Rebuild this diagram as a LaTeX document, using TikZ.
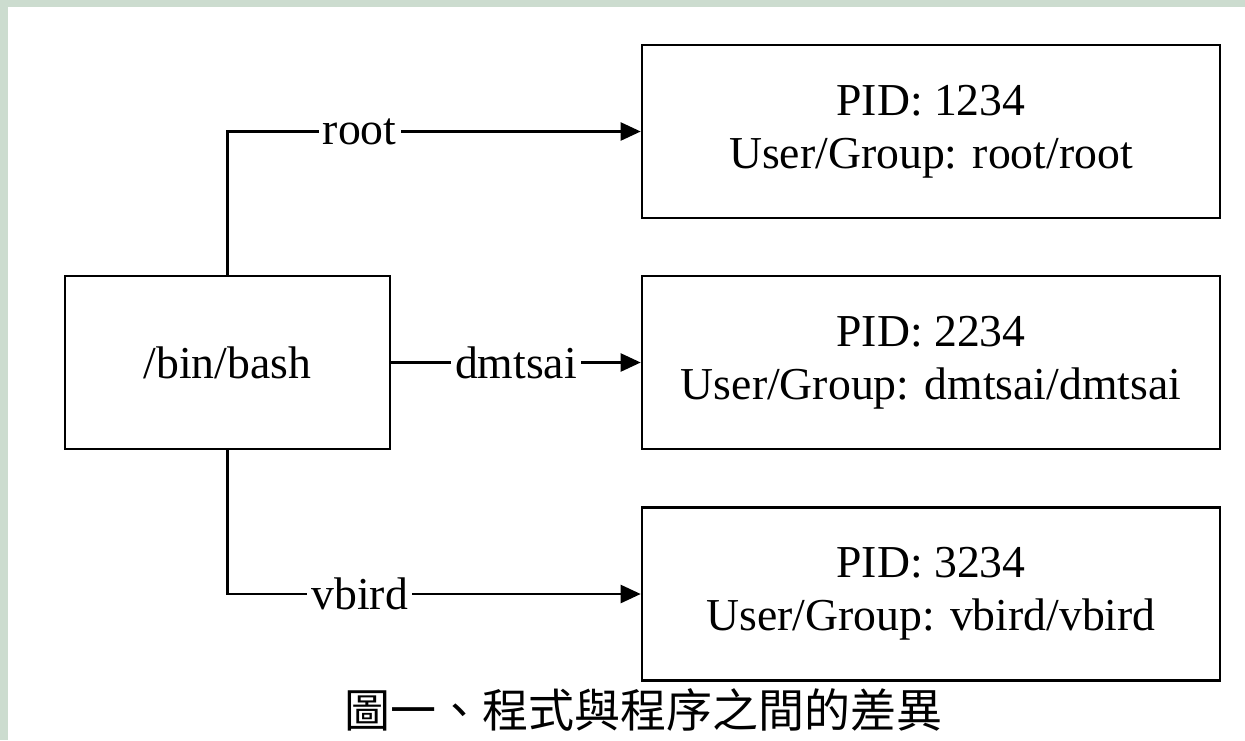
\documentclass[tikz,border=0pt]{standalone}
\usepackage{fontspec}
\setmainfont{Liberation Serif}
\newfontfamily\cjk{Noto Sans CJK TC}
\usetikzlibrary{arrows.meta}

\definecolor{framegreen}{RGB}{204,220,207}

\begin{document}
\begin{tikzpicture}[
  x=1pt, y=-1pt,
  font=\fontsize{45.7}{53}\selectfont,
  box/.style={draw=black,line width=2.6pt,fill=white,align=center,inner sep=0pt},
  proc/.style={box,minimum width=578,minimum height=173},
  conn/.style={line width=2.4pt,-{Triangle[length=20pt,width=18pt]}},
  lbl/.style={fill=white,inner xsep=4pt,inner ysep=2pt},
]

% ---- page and frame ----
\useasboundingbox (0,0) rectangle (1245,740);
\fill[white] (0,0) rectangle (1245,740);
\fill[framegreen] (0,0) rectangle (8,740);
\fill[framegreen] (0,0) rectangle (1245,7);

% ---- program ----
\node[box,minimum width=325,minimum height=173] (bash) at (227.5,362.5) {/bin/bash};

% ---- processes ----
\node[proc] (p1) at (931,131.5) {PID: 1234\\User/Group: root/root};
\node[proc] (p2) at (931,362.5) {PID: 2234\\User/Group: dmtsai/dmtsai};
\node[proc] (p3) at (931,594)   {PID: 3234\\User/Group: vbird/vbird};

% ---- connectors ----
\draw[conn] (bash.north) |- node[lbl,pos=0.66] {root} (p1.west);
\draw[conn] (bash.east) -- node[lbl] {dmtsai} (p2.west);
\draw[conn] (bash.south) |- node[lbl,pos=0.66] {vbird} (p3.west);

% ---- caption ----
\node[font=\cjk\fontsize{46}{50}\selectfont] (caption) at (643,710) {圖一、程式與程序之間的差異};

\end{tikzpicture}
\end{document}
